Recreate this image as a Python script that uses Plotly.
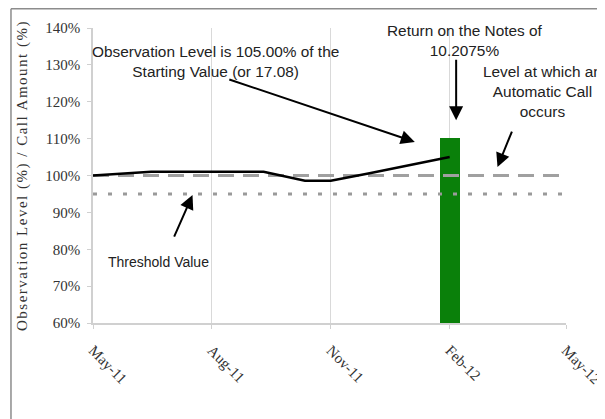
"""Observation level vs. call level chart (autocallable note)."""

import plotly.graph_objects as go

# observation level path (% of starting value)
obs_dates = ["2011-05-01", "2011-06-15", "2011-08-01", "2011-09-10",
             "2011-10-12", "2011-11-01", "2011-12-01", "2012-01-01", "2012-02-01"]
obs_level = [100.0, 101.0, 101.0, 101.0, 98.6, 98.6, 100.6, 102.7, 105.0]

# call amount bar at the observation date
call_dates = ["2012-02-01"]
call_amount = [110.2075]

# reference levels
level_dates = ["2011-05-01", "2012-05-01"]
call_level = [100, 100]
threshold_level = [95, 95]

tick_vals = ["2011-05-01", "2011-08-01", "2011-11-01", "2012-02-01", "2012-05-01"]
tick_text = ["May-11", "Aug-11", "Nov-11", "Feb-12", "May-12"]
y_ticks = [60, 70, 80, 90, 100, 110, 120, 130, 140]
y_tick_text = [f"{v}%" for v in y_ticks]

BAR_WIDTH_MS = 15.5 * 24 * 3600 * 1000
SERIF = "Liberation Serif, Times New Roman, serif"
SANS = "Liberation Sans, Arial, sans-serif"

fig = go.Figure()

fig.add_trace(go.Bar(
    x=call_dates,
    y=[v - 60 for v in call_amount],
    base=60,
    width=BAR_WIDTH_MS,
    marker=dict(color="#0a800a", line=dict(width=0)),
    showlegend=False,
))
fig.add_trace(go.Scatter(
    x=level_dates, y=call_level, mode="lines",
    line=dict(color="#a0a0a0", width=3, dash="16px,9px"),
    showlegend=False,
))
fig.add_trace(go.Scatter(
    x=level_dates, y=threshold_level, mode="lines",
    line=dict(color="#9a9a9a", width=3, dash="4px,11px"),
    showlegend=False,
))
fig.add_trace(go.Scatter(
    x=obs_dates, y=obs_level, mode="lines",
    line=dict(color="black", width=2.5),
    showlegend=False,
))

text_font = dict(family=SANS, size=15.4, color="#222")
arrow = dict(showarrow=True, arrowhead=2, arrowsize=1.4, arrowwidth=2,
             arrowcolor="black", axref="pixel", ayref="pixel", text="")

annotations = [
    dict(x="2011-08-04", y=130.9, showarrow=False, font=text_font,
         text="Observation Level is 105.00% of the<br>Starting Value (or 17.08)"),
    dict(x="2012-02-13", y=136.7, showarrow=False, font=text_font,
         text="Return on the Notes of<br>10.2075%"),
    dict(x="2012-04-13", y=122.9, showarrow=False, font=text_font,
         text="Level at which an<br>Automatic Call<br>occurs"),
    dict(x="2011-06-21", y=76.5, showarrow=False,
         font=dict(family=SANS, size=14, color="#222"),
         text="Threshold Value"),
    dict(x="2012-01-05", y=109.1, ax=-187, ay=-63, **arrow),
    dict(x="2012-02-06", y=115.0, ax=0, ay=-62, **arrow),
    dict(x="2012-03-09", y=102.3, ax=15, ay=-37, **arrow),
    dict(x="2011-07-17", y=94.7, ax=-19, ay=43, **arrow),
]

# outer frame of the picture: only its left and top edges are in view
frame = dict(color="#8c8c8c", width=1.5)
shapes = [
    dict(type="line", xref="paper", yref="paper",
         x0=-0.1734, x1=-0.1734, y0=-0.6, y1=1.0653, line=frame, layer="below"),
    dict(type="line", xref="paper", yref="paper",
         x0=-0.1734, x1=1.3, y0=1.0653, y1=1.0653, line=frame, layer="below"),
]

# page body adds an 8px margin, so the figure is sized to fit inside it
fig.update_layout(
    width=597,
    height=411,
    paper_bgcolor="white",
    plot_bgcolor="white",
    margin=dict(l=85, r=39, t=20, b=96),
    bargap=0,
    annotations=annotations,
    shapes=shapes,
)
fig.update_xaxes(
    type="date",
    range=["2011-05-01", "2012-05-01"],
    tickvals=tick_vals,
    ticktext=tick_text,
    tickangle=45,
    showgrid=True,
    gridcolor="#d9d9d9",
    gridwidth=1,
    showline=True,
    linecolor="#d0d0d0",
    linewidth=1.5,
    ticks="outside",
    ticklen=4,
    tickcolor="#d0d0d0",
    ticklabelstandoff=7,
    tickfont=dict(family=SERIF, size=15, color="#333"),
    zeroline=False,
    automargin=False,
)
fig.update_yaxes(
    range=[60, 140],
    tickvals=y_ticks,
    ticktext=y_tick_text,
    showgrid=False,
    showline=True,
    linecolor="#d0d0d0",
    linewidth=1.5,
    ticks="outside",
    ticklen=4,
    tickcolor="#d0d0d0",
    ticklabelstandoff=4,
    tickfont=dict(family=SERIF, size=15, color="#333"),
    title=dict(text='<span style="letter-spacing:1.5px">Observation Level (%) / Call Amount (%)</span>',
               font=dict(family=SERIF, size=15, color="#333"),
               standoff=14),
    zeroline=False,
)

fig.write_html("out.html")
